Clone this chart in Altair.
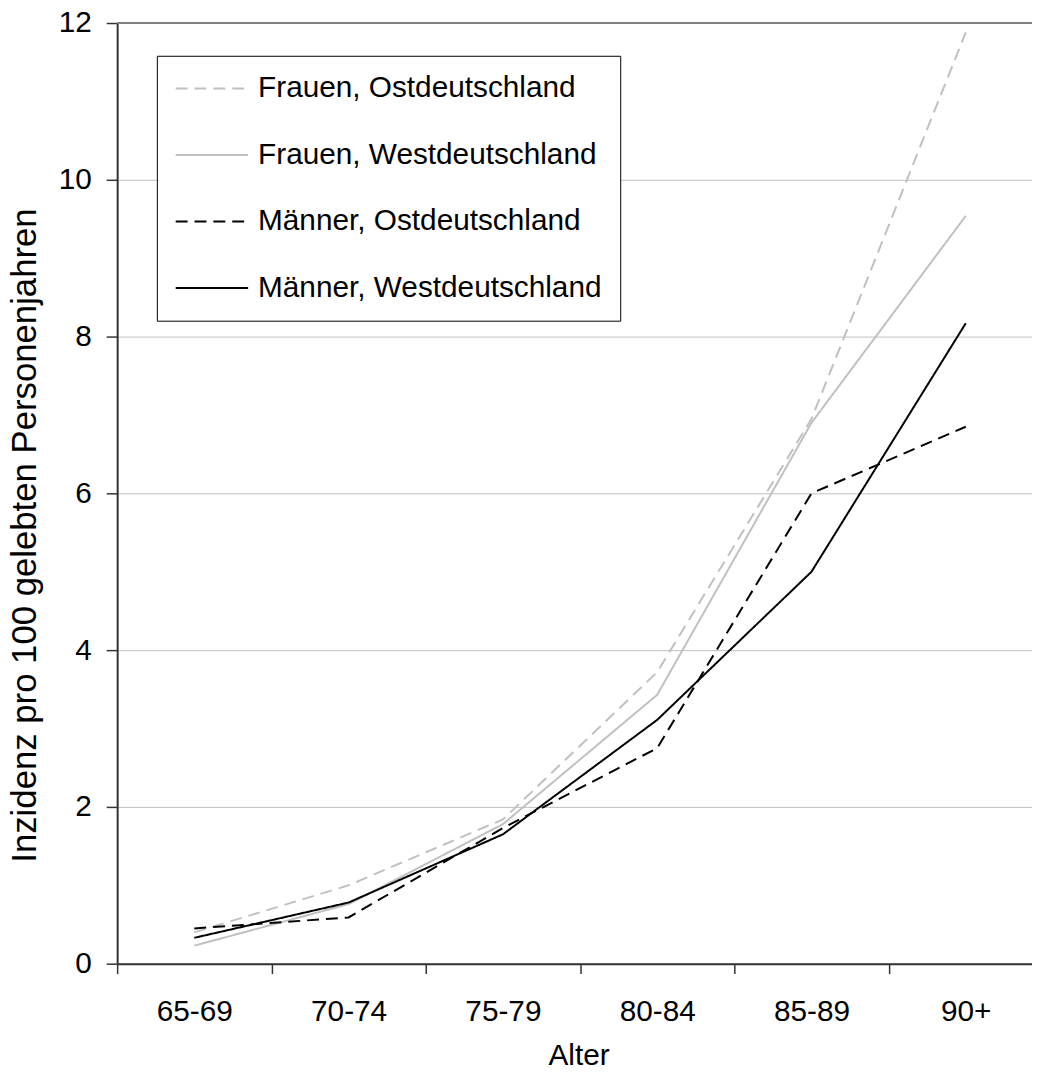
import altair as alt
import pandas as pd

alter = ["65-69", "70-74", "75-79", "80-84", "85-89", "90+"]
frauen_ost = [0.40, 1.00, 1.84, 3.72, 6.95, 11.88]
frauen_west = [0.23, 0.76, 1.78, 3.43, 6.90, 9.54]
maenner_ost = [0.45, 0.59, 1.73, 2.75, 6.00, 6.85]
maenner_west = [0.33, 0.78, 1.65, 3.11, 5.00, 8.17]
serien = ["Frauen, Ostdeutschland", "Frauen, Westdeutschland",
          "Männer, Ostdeutschland", "Männer, Westdeutschland"]
y_ticks = [0, 2, 4, 6, 8, 10, 12]

rows = []
for name, vals in zip(serien, [frauen_ost, frauen_west, maenner_ost, maenner_west]):
    for a, v in zip(alter, vals):
        rows.append({"Alter": a, "Wert": v, "Serie": name})
df = pd.DataFrame(rows)

FONT = "Liberation Sans"

legend = alt.Legend(
    title=None, orient="none", legendX=40, legendY=33,
    symbolType="stroke", symbolSize=5329, symbolStrokeWidth=2,
    labelFontSize=30, labelFont=FONT, labelColor="black", labelOffset=9,
    labelLimit=0,
    padding=18, rowPadding=37, clipHeight=30,
    strokeColor="black", fillColor="white", cornerRadius=0,
)

x_enc = alt.X(
    "Alter:N", sort=alter, bandPosition=0.5,
    scale=alt.Scale(type="band", domain=alter, paddingInner=0, paddingOuter=0,
                    range=[0, 933]),
    axis=alt.Axis(title="Alter", tickBand="extent", labelAngle=0, grid=False,
                  tickSize=10, labelPadding=23, labelFontSize=30, titleFontSize=30,
                  titleFontWeight="normal", titleBaseline="alphabetic",
                  titleX=465, titleY=102, domainColor="#333333", domainWidth=2,
                  tickColor="#333333", tickWidth=1.5, labelColor="black",
                  titleColor="black", labelFont=FONT, titleFont=FONT),
)

y_scale = alt.Scale(domain=[0, 12], nice=False)

lines = alt.Chart(df).mark_line(strokeWidth=2).encode(
    x=x_enc,
    y=alt.Y(
        "Wert:Q", scale=y_scale,
        axis=alt.Axis(title="Inzidenz pro 100 gelebten Personenjahren", values=y_ticks,
                      format="d",
                      tickSize=11, labelPadding=15, grid=True, gridColor="#c0c0c0",
                      gridWidth=1, domainColor="#333333", domainWidth=2,
                      tickColor="#333333", tickWidth=1.5, labelFontSize=30,
                      titleFontSize=35, titleFontWeight="normal", labelColor="black",
                      titleColor="black", titleBaseline="alphabetic", titleAngle=270,
                      titleX=-82, titleY=516, labelFont=FONT, titleFont=FONT),
    ),
    color=alt.Color("Serie:N", scale=alt.Scale(domain=serien,
                    range=["#c0c0c0", "#c0c0c0", "#000000", "#000000"]), legend=legend),
    strokeDash=alt.StrokeDash("Serie:N", scale=alt.Scale(domain=serien,
                    range=[[12, 7], [1, 0], [12, 7], [1, 0]]), legend=legend),
    detail="Serie:N",
)

top = alt.Chart(pd.DataFrame({"Wert": [y_ticks[-1]]})).mark_rule(
    color="#808080", strokeWidth=2).encode(y=alt.Y("Wert:Q", scale=y_scale))

chart = alt.layer(lines, top).properties(
    width=922, height=948,
    autosize=alt.AutoSizeParams(type="none"),
    padding={"left": 110, "top": 11, "right": 0, "bottom": 103},
).configure_view(stroke=None).configure(font=FONT)

chart.save("out.html", embed_options={"renderer": "svg", "actions": False})
